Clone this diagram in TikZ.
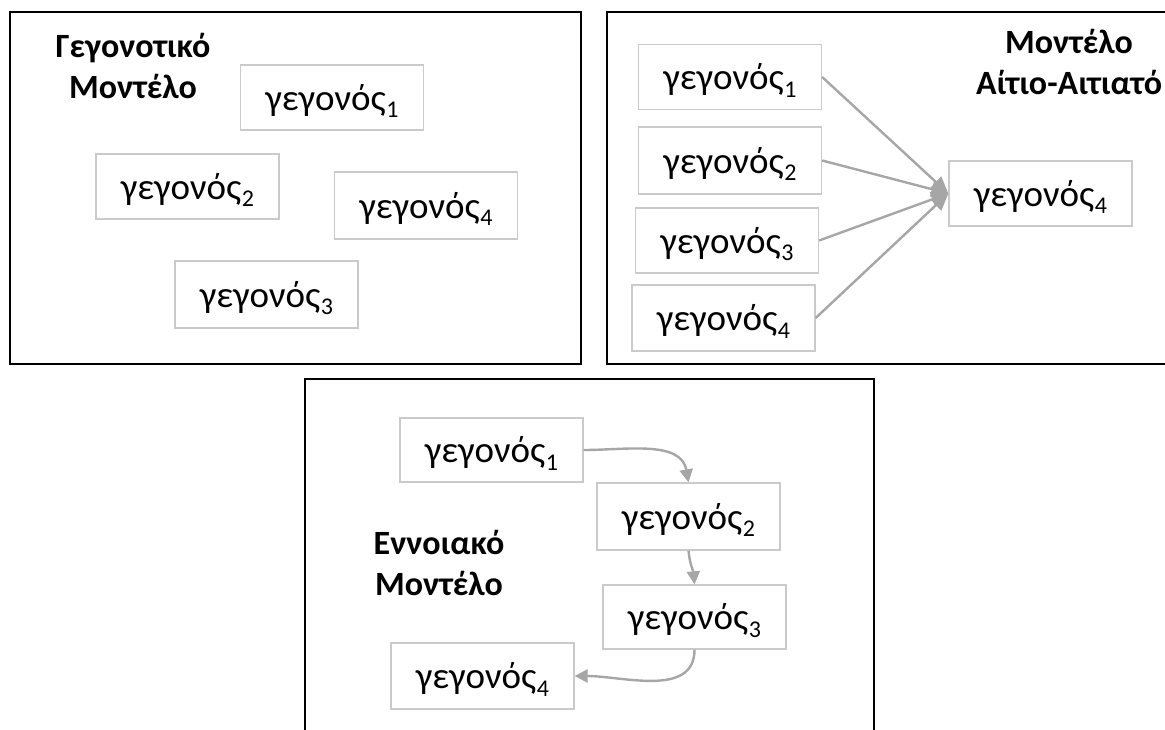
\documentclass[tikz,border=0pt]{standalone}
\usepackage{fontspec}
\setmainfont{Carlito}
\usetikzlibrary{arrows.meta}
\definecolor{boxline}{HTML}{CACACA}
\definecolor{arrowgray}{HTML}{A6A6A6}
\tikzset{
  panel/.style={draw=black, line width=2.6pt},
  event/.style={draw=boxline, line width=1.3pt, minimum width=183pt, minimum height=65pt,
    inner sep=0pt, text height=33pt, text depth=7.5pt, font=\fontsize{37}{40}\selectfont},
  heading/.style={align=center, font=\fontsize{34}{41}\selectfont\bfseries},
  flow/.style={draw=arrowgray, line width=2.4pt, -{Triangle[length=13pt,width=13pt]}},
  fan/.style={draw=arrowgray, line width=2.4pt, -{Triangle[length=17pt,width=15pt]}}
}
\newcommand{\ev}[1]{γεγονός\kern0.5pt\raisebox{-0.2em}{\fontsize{24}{24}\selectfont #1}}
\begin{document}
\begin{tikzpicture}[x=1pt,y=-1pt]
\useasboundingbox (0,0) rectangle (1165,729);
\clip (0,0) rectangle (1165,729);

% factual model
\draw[panel] (10,12) rectangle (581,364);
\node[heading] (t1) at (133,66) {Γεγονοτικό\\Μοντέλο};
\node[event] (a1) at (332,97.5) {\ev{1}};
\node[event] (a2) at (187.5,186.5) {\ev{2}};
\node[event, minimum height=67pt] (a4) at (426,205.5) {\ev{4}};
\node[event, minimum height=67pt] (a3) at (266.5,294.5) {\ev{3}};

% cause-effect model
\draw[panel] (607,12) rectangle (1180,364);
\node[heading] (t2) at (1069,62) {Μοντέλο\\Αίτιο-Αιτιατό};
\node[event] (c1) at (730,77) {\ev{1}};
\node[event, minimum height=67pt] (c2) at (730,160.5) {\ev{2}};
\node[event] (c3) at (727,240.5) {\ev{3}};
\node[event, minimum height=66pt] (c4) at (723.5,318) {\ev{4}};
\node[event] (c5) at (1040.5,193.5) {\ev{4}};
\draw[fan] (c1.east) -- (c5.west);
\draw[fan] (c2.east) -- (c5.west);
\draw[fan] (c3.east) -- (c5.west);
\draw[fan] (c4.east) -- (c5.west);

% conceptual model
\draw[panel] (305,379) rectangle (874,740);
\node[heading] (t3) at (439,563) {Εννοιακό\\Μοντέλο};
\node[event, minimum height=64pt] (d1) at (491.5,450) {\ev{1}};
\node[event, minimum height=67pt] (d2) at (688.5,516.5) {\ev{2}};
\node[event, minimum height=64pt] (d3) at (694.5,617) {\ev{3}};
\node[event, minimum height=66pt] (d4) at (482.5,676) {\ev{4}};
\draw[flow] (d1.east) to[out=0,in=100] (d2.north);
\draw[flow] (d2.south) to[out=-85,in=95] (d3.north);
\draw[flow] (d3.south) to[out=-90,in=0] (d4.east);
\end{tikzpicture}
\end{document}
